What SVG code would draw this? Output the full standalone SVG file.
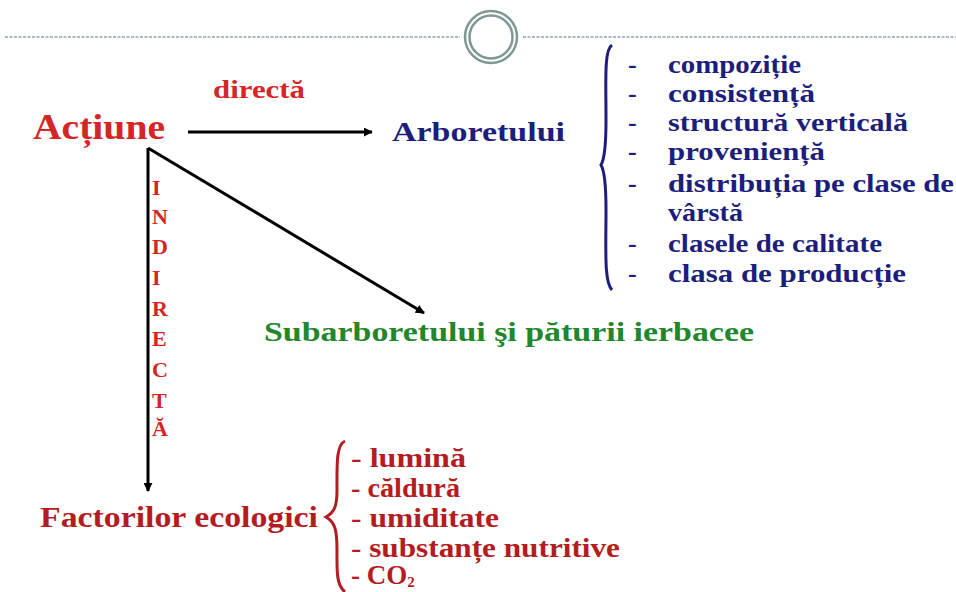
<svg xmlns="http://www.w3.org/2000/svg" width="956" height="592" viewBox="0 0 956 592">
<defs>
<marker id="ah" viewBox="0 0 10 10" refX="9" refY="5" markerWidth="9" markerHeight="9" markerUnits="userSpaceOnUse" orient="auto">
<path d="M0,0 L10,5 L0,10 z" fill="#000"/>
</marker>
<style>
.dash{stroke:#8fa3b3;stroke-width:1.5;stroke-dasharray:3 1.5;fill:none}
.ring{stroke:#7f9895;fill:none;stroke-width:2.5}
.conn{stroke:#000;stroke-width:3;fill:none}
text{font-family:"Liberation Serif","Times New Roman","Noto Serif",serif;font-weight:bold}
.red{fill:#d42626}
.dred{fill:#b51c22}
.blue{fill:#1d1d7c}
.green{fill:#22862a}
.vl{fill:#d42626;font-size:22px}
</style>
</defs>
<rect width="956" height="592" fill="#fff"/>
<g id="header">
<line class="dash" x1="5" y1="37" x2="460" y2="37"/>
<line class="dash" x1="523" y1="37" x2="956" y2="37"/>
<circle class="ring" cx="491" cy="37" r="26"/>
<circle class="ring" cx="491" cy="37" r="21.5"/>
</g>
<g id="connectors">
<line class="conn" x1="188" y1="132" x2="372" y2="132" marker-end="url(#ah)"/>
<line class="conn" x1="148" y1="148" x2="424" y2="313" marker-end="url(#ah)"/>
<line class="conn" x1="148" y1="148" x2="148" y2="491" marker-end="url(#ah)"/>
</g>
<g id="actiune">
<text class="red" x="33" y="139" font-size="36" textLength="132" lengthAdjust="spacingAndGlyphs">Acțiune</text>
</g>
<g id="directa">
<text class="red" x="213" y="98" font-size="25" textLength="92" lengthAdjust="spacingAndGlyphs">directă</text>
</g>
<g id="indirecta">
<text class="vl" x="152" y="195">I</text>
<text class="vl" x="152" y="224">N</text>
<text class="vl" x="152" y="254">D</text>
<text class="vl" x="152" y="285">I</text>
<text class="vl" x="152" y="316">R</text>
<text class="vl" x="152" y="346">E</text>
<text class="vl" x="152" y="377">C</text>
<text class="vl" x="152" y="408">T</text>
<text class="vl" x="152" y="436">Ă</text>
</g>
<g id="arboretului">
<text class="blue" x="392" y="141" font-size="27" textLength="173" lengthAdjust="spacingAndGlyphs">Arboretului</text>
<path d="M612,45 C604,50 606,80 606,120 C606,150 604,160 601,165 C604,170 606,180 606,210 C606,250 604,282 612,290" fill="none" stroke="#1d1d7c" stroke-width="3"/>
<g class="blue" font-size="26">
<text x="628" y="73">-</text><text x="668" y="73" textLength="133" lengthAdjust="spacingAndGlyphs">compoziție</text>
<text x="628" y="102">-</text><text x="668" y="102" textLength="147" lengthAdjust="spacingAndGlyphs">consistență</text>
<text x="628" y="131">-</text><text x="668" y="131" textLength="240" lengthAdjust="spacingAndGlyphs">structură verticală</text>
<text x="628" y="160">-</text><text x="668" y="160" textLength="157" lengthAdjust="spacingAndGlyphs">proveniență</text>
<text x="628" y="192">-</text><text x="668" y="192" textLength="286" lengthAdjust="spacingAndGlyphs">distribuția pe clase de</text>
<text x="668" y="221" textLength="75" lengthAdjust="spacingAndGlyphs">vârstă</text>
<text x="628" y="252">-</text><text x="668" y="252" textLength="214" lengthAdjust="spacingAndGlyphs">clasele de calitate</text>
<text x="628" y="282">-</text><text x="668" y="282" textLength="238" lengthAdjust="spacingAndGlyphs">clasa de producție</text>
</g>
</g>
<g id="subarboretului">
<text class="green" x="264" y="341" font-size="28" textLength="490" lengthAdjust="spacingAndGlyphs">Subarboretului şi păturii ierbacee</text>
</g>
<g id="factori">
<text class="dred" x="40" y="527" font-size="29" textLength="278" lengthAdjust="spacingAndGlyphs">Factorilor ecologici</text>
<path d="M345,441 C336,445 337,465 337,490 C337,505 335,512 326,517 C335,522 337,530 337,550 C337,570 336,585 345,592" fill="none" stroke="#b51c22" stroke-width="3"/>
<g class="dred" font-size="27">
<text x="351" y="467" textLength="115" lengthAdjust="spacingAndGlyphs">- lumină</text>
<text x="351" y="497" textLength="109" lengthAdjust="spacingAndGlyphs">- căldură</text>
<text x="351" y="527" textLength="148" lengthAdjust="spacingAndGlyphs">- umiditate</text>
<text x="351" y="557" textLength="269" lengthAdjust="spacingAndGlyphs">- substanțe nutritive</text>
<text x="351" y="584">- CO<tspan font-size="15" dy="3">2</tspan></text>
</g>
</g>
</svg>
